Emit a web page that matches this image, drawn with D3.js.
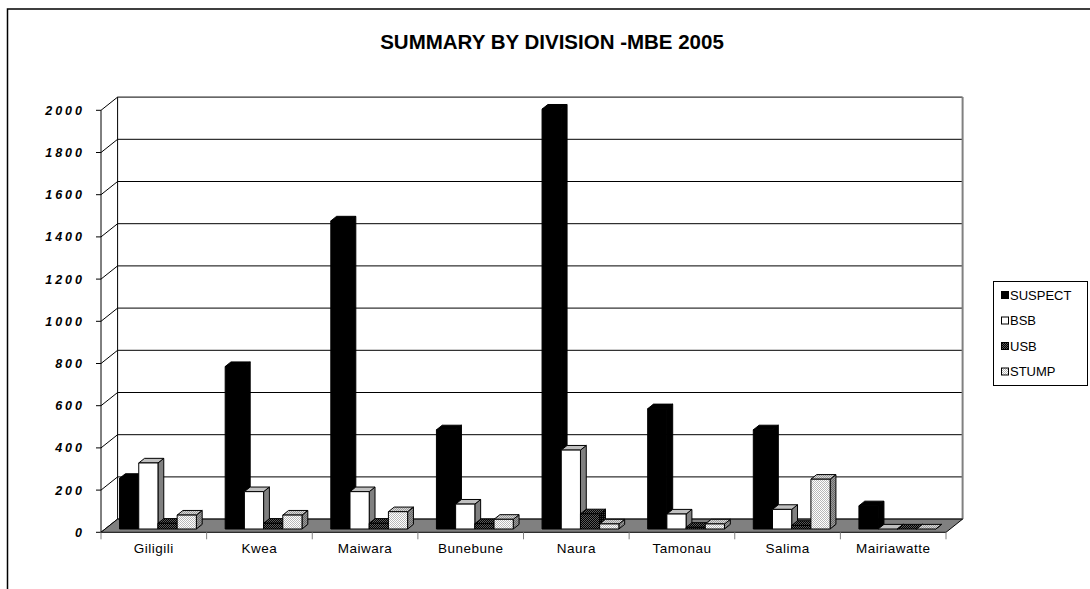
<!DOCTYPE html>
<html>
<head>
<meta charset="utf-8">
<script src="https://cdn.jsdelivr.net/npm/d3@7/dist/d3.min.js"></script>
<style>
  html, body { margin: 0; padding: 0; background: #fff; }
  svg { display: block; font-family: "Liberation Sans", Arial, sans-serif; }
</style>
</head>
<body>
<svg id="chart" width="1090" height="589"></svg>
<script>
// Division summary data
const categories = ["Giligili", "Kwea", "Maiwara", "Bunebune", "Naura", "Tamonau", "Salima", "Mairiawatte"];
const seriesNames = ["SUSPECT", "BSB", "USB", "STUMP"];
const suspect = [240, 770, 1460, 470, 1990, 570, 470, 110];
const bsb     = [313, 177, 177, 118, 374, 71, 93, 0];
const usb     = [27, 27, 27, 25, 72, 8, 17, 0];
const stump   = [66, 66, 82, 46, 24, 24, 236, 0];
const yTicks  = [0, 200, 400, 600, 800, 1000, 1200, 1400, 1600, 1800, 2000];
const titleText = "SUMMARY BY DIVISION -MBE 2005";

const seriesValues = [suspect, bsb, usb, stump];

const svg = d3.select("#chart");

// Oblique projection: front plane plus a depth vector toward the back wall
const X0 = 101, X1 = 946, Y0 = 532.3, PLOT_H = 422;
const DX = 16.6, DY = -13.2;
const T_FRONT = 0.25, T_BACK = 0.6;

const x = d3.scaleBand().domain(categories).range([X0, X1]).paddingInner(0).paddingOuter(0);
const xs = d3.scaleBand().domain(seriesNames).range([0, x.bandwidth()]).paddingInner(0).paddingOuter(0.75);
const y = d3.scaleLinear().domain([0, 2000]).range([0, PLOT_H]);

const P = (px, v, t) => [px + t * DX, Y0 - y(v) + t * DY];
const pts = arr => arr.map(p => p.join(",")).join(" ");

// Fill patterns
const defs = svg.append("defs");
function checker(id, bg, dot, both) {
  const p = defs.append("pattern").attr("id", id).attr("width", 2).attr("height", 2).attr("patternUnits", "userSpaceOnUse");
  p.append("rect").attr("width", 2).attr("height", 2).attr("fill", bg);
  p.append("rect").attr("width", 1).attr("height", 1).attr("fill", dot);
  if (both) p.append("rect").attr("x", 1).attr("y", 1).attr("width", 1).attr("height", 1).attr("fill", dot);
}
checker("usbFront", "#000", "#5a5a5a", true);
checker("usbSide", "#000", "#3a3a3a", false);
checker("stumpFront", "#fff", "#b8b8b8", true);
checker("stumpTop", "#d8d8d8", "#9a9a9a", true);
checker("stumpSide", "#9a9a9a", "#6a6a6a", true);

const faceFill = {
  SUSPECT: { front: "#000", top: "#000", side: "#000" },
  BSB:     { front: "#fff", top: "#c0c0c0", side: "#808080" },
  USB:     { front: "url(#usbFront)", top: "url(#usbFront)", side: "url(#usbSide)" },
  STUMP:   { front: "url(#stumpFront)", top: "url(#stumpTop)", side: "url(#stumpSide)" }
};
const legendFill = { SUSPECT: "#000", BSB: "#fff", USB: "url(#usbFront)", STUMP: "url(#stumpFront)" };

// Outer chart frame
svg.append("rect").attr("x", 7.5).attr("y", 9).attr("width", 1200).attr("height", 700)
  .attr("fill", "none").attr("stroke", "#000").attr("stroke-width", 1.5);

// Title
svg.append("text").attr("x", 552).attr("y", 48.5).attr("text-anchor", "middle")
  .attr("font-size", 20.5).attr("font-weight", "bold").attr("fill", "#000").text(titleText);

// Back wall
const g = svg.append("g");
const bl = P(X0, 0, 1), br = P(X1, 0, 1), tl = P(X0, 2000, 1), tr = P(X1, 2000, 1);
g.append("polygon").attr("points", pts([bl, tl, tr, br])).attr("fill", "#fff");

// Gridlines on back wall and left side wall
yTicks.forEach(v => {
  const a = P(X0, v, 1), b = P(X1, v, 1), f = P(X0, v, 0);
  g.append("line").attr("x1", a[0]).attr("y1", a[1]).attr("x2", b[0]).attr("y2", b[1])
    .attr("stroke", "#000").attr("stroke-width", 1);
  g.append("line").attr("x1", f[0]).attr("y1", f[1]).attr("x2", a[0]).attr("y2", a[1])
    .attr("stroke", "#000").attr("stroke-width", 1);
});
// Back wall edges
g.append("line").attr("x1", tl[0]).attr("y1", tl[1]).attr("x2", bl[0]).attr("y2", bl[1]).attr("stroke", "#000");
g.append("line").attr("x1", tr[0]).attr("y1", tr[1]).attr("x2", br[0]).attr("y2", br[1]).attr("stroke", "#808080").attr("stroke-width", 2);

// Floor
const f0 = P(X0, 0, 0), f1 = P(X1, 0, 0);
g.append("polygon").attr("points", pts([f0, bl, br, f1])).attr("fill", "#808080")
  .attr("stroke", "#000").attr("stroke-width", 1).attr("stroke-linejoin", "round");

// Front value axis
const fTop = P(X0, 2000, 0);
g.append("line").attr("x1", f0[0]).attr("y1", f0[1]).attr("x2", fTop[0]).attr("y2", fTop[1]).attr("stroke", "#000");
yTicks.forEach(v => {
  const f = P(X0, v, 0);
  g.append("line").attr("x1", f[0] - 5).attr("y1", f[1]).attr("x2", f[0]).attr("y2", f[1]).attr("stroke", "#000");
  g.append("text").attr("x", 85).attr("y", f[1] + 4.5).attr("text-anchor", "end")
    .attr("font-size", 12.5).attr("font-weight", "bold").attr("font-style", "italic")
    .attr("letter-spacing", 3).attr("fill", "#000").text(v);
});

// Category axis ticks and labels
const tickXs = categories.map(c => x(c)).concat([X1]);
tickXs.forEach(tx => {
  g.append("line").attr("x1", tx).attr("y1", Y0).attr("x2", tx).attr("y2", Y0 + 7)
    .attr("stroke", "#808080").attr("stroke-width", 1);
});
categories.forEach(c => {
  g.append("text").attr("x", x(c) + x.bandwidth() / 2).attr("y", Y0 + 21).attr("text-anchor", "middle")
    .attr("font-size", 13.5).attr("letter-spacing", 0.5).attr("fill", "#000").text(c);
});

// Bars (drawn left to right so side faces tuck behind the next front face)
const barsG = svg.append("g");
categories.forEach((c, ci) => {
  seriesNames.forEach((s, si) => {
    const v = seriesValues[si][ci];
    const xl = x(c) + xs(s), xr = xl + xs.bandwidth();
    const fill = faceFill[s];
    const bar = barsG.append("g").attr("stroke", "#000").attr("stroke-width", 1).attr("stroke-linejoin", "round");
    bar.append("polygon").attr("points", pts([P(xr, 0, T_FRONT), P(xr, v, T_FRONT), P(xr, v, T_BACK), P(xr, 0, T_BACK)]))
      .attr("fill", fill.side);
    bar.append("polygon").attr("points", pts([P(xl, v, T_FRONT), P(xl, v, T_BACK), P(xr, v, T_BACK), P(xr, v, T_FRONT)]))
      .attr("fill", fill.top);
    if (v > 0) {
      bar.append("polygon").attr("points", pts([P(xl, 0, T_FRONT), P(xl, v, T_FRONT), P(xr, v, T_FRONT), P(xr, 0, T_FRONT)]))
        .attr("fill", fill.front);
    }
  });
});

// Legend
const lg = svg.append("g");
lg.append("rect").attr("x", 993.5).attr("y", 281.5).attr("width", 94).attr("height", 104)
  .attr("fill", "#fff").attr("stroke", "#000").attr("stroke-width", 1);
seriesNames.forEach((s, i) => {
  const cy = 295 + i * 25.5;
  lg.append("rect").attr("x", 1001.5).attr("y", cy - 3.5).attr("width", 7).attr("height", 7)
    .attr("fill", legendFill[s]).attr("stroke", "#000").attr("stroke-width", 1);
  lg.append("text").attr("x", 1010).attr("y", cy + 4.5).attr("font-size", 13).attr("fill", "#000").text(s);
});
</script>
</body>
</html>
